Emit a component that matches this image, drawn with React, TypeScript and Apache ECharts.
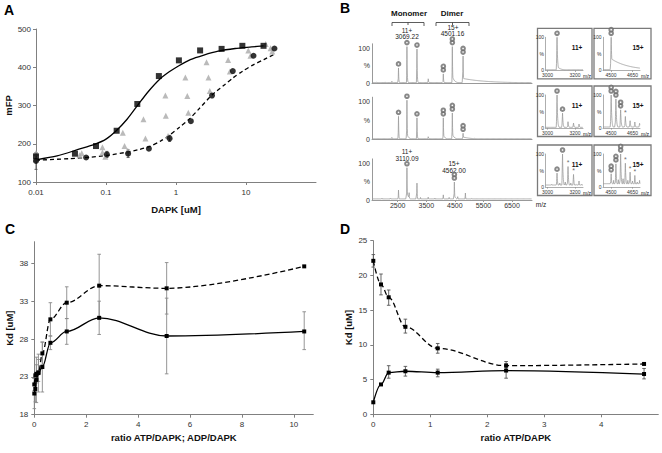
import React, { useEffect, useRef } from "react";
import * as echarts from "echarts";

const FONT = "'Liberation Sans', Arial, Helvetica, sans-serif";

// ---------------- Panel A (fluorescence polarisation vs DAPK) ----------------
const aSquareX = [0.01, 0.036, 0.072, 0.142, 0.28, 0.569, 1.1, 2.21, 4.48, 8.87, 17.8];
const aSquareY = [167, 174, 194, 234, 304, 377, 418, 444, 448, 456, 456];
const aCircleX = [0.01, 0.052, 0.103, 0.207, 0.41, 0.81, 1.63, 3.27, 6.48, 12.8, 25.5];
const aCircleY = [155, 164, 172, 174, 187, 214, 259, 326, 390, 430, 449];
const aCircleErrX = [0.01, 0.103, 0.207, 0.81];
const aCircleErrLo = [133, 164, 164, 206];
const aCircleErrHi = [177, 180, 184, 222];
const aTriangleX = [0.01, 0.01, 0.042, 0.045, 0.089, 0.089, 0.098, 0.174, 0.184, 0.205, 0.343, 0.366, 0.705, 0.715, 0.77, 1.36, 1.45, 1.5, 2.73, 2.91, 3.04, 5.55, 5.88, 10.8, 11.6, 19.1, 22.5, 23.7];
const aTriangleY = [176, 160, 170, 175, 191, 177, 166, 229, 194, 182, 264, 214, 326, 273, 220, 373, 325, 281, 413, 373, 338, 419, 389, 444, 430, 461, 450, 441];
const aSolidFitX = [0.01, 0.02, 0.04, 0.07, 0.1, 0.14, 0.2, 0.29, 0.4, 0.58, 0.8, 1.1, 1.6, 2.5, 4, 7, 12, 18];
const aSolidFitY = [158, 168, 185, 199, 212, 234, 264, 303, 336, 368, 388, 404, 420, 432, 442, 449, 453, 456];
const aDashedFitX = [0.01, 0.03, 0.06, 0.1, 0.2, 0.3, 0.42, 0.6, 0.8, 1.1, 1.6, 2.1, 3.3, 5, 6.5, 9, 12.3, 18, 26];
const aDashedFitY = [157, 161, 165, 169, 178, 185, 193, 207, 222, 242, 267, 290, 328, 355, 372, 390, 405, 420, 435];

// ---------------- Panel B (mass spectra) ----------------
// peaks: [m/z, relative intensity %]; tails: [start m/z, level %, decay m/z]
const spec1Peaks = [[1750, 2], [2061, 3], [2296, 5], [2528, 43], [2823, 104], [3174, 97], [3570, 14], [4096, 26], [4412, 104], [4788, 77], [5184, 5]];
const spec1Tails = [[1600, 1.2, 1e9], [4412, 20, 70], [4788, 13, 800]];
const spec2Peaks = [[2061, 3], [2296, 5], [2528, 61], [2823, 104], [3174, 57], [3570, 8], [4096, 57], [4412, 70], [4788, 16], [5184, 3]];
const spec2Tails = [[1600, 1.5, 1e9], [2823, 14, 60], [4096, 12, 60], [4412, 14, 70], [4788, 6, 300]];
const spec3Peaks = [[1700, 4], [1800, 3], [1950, 5], [2100, 4], [2250, 5], [2400, 4], [2528, 27], [2823, 88], [2900, 20], [3174, 46], [3300, 8], [3570, 9], [3800, 5], [4096, 14], [4300, 7], [4483, 49], [4600, 9], [4869, 19], [5100, 5], [5400, 4], [5800, 3], [6200, 3], [6700, 2]];
const spec3Tails = [[1600, 3, 1e9], [2823, 22, 60], [4483, 12, 60]];
const spec1Mono = [[2528, 43], [2823, 104], [3174, 97]];
const spec1Dimer = [[4096, 26], [4412, 104], [4788, 77]];
const spec2Mono = [[2528, 61], [2823, 104], [3174, 57]];
const spec2Dimer = [[4096, 57], [4412, 70], [4788, 16]];
const spec3Mono = [[2823, 88]];
const spec3Dimer = [[4483, 49]];
const specTicks = [2500, 3500, 4500, 5500, 6500];

// insets (zoomed charge states)
const in11Peaks = [[3069, 100]];
const in11Tails = [[2985, 1.5, 1e9], [3069, 12, 25]];
const in12Peaks = [[4501, 100]];
const in12Tails = [[4444, 2, 1e9], [4501, 35, 120]];
const in21Peaks = [[3069, 100], [3109, 45], [3149, 19], [3189, 15], [3229, 12]];
const in21Tails = [[2985, 2, 1e9]];
const in22Peaks = [[4501, 100], [4534, 88], [4567, 55], [4600, 35], [4633, 22], [4666, 18], [4699, 14]];
const in22Tails = [[4444, 3, 1e9]];
const in31Peaks = [[3030, 8], [3069, 42], [3089, 12], [3109, 100], [3129, 15], [3149, 62], [3169, 12], [3189, 38], [3209, 10], [3229, 18], [3249, 10]];
const in31Tails = [[2985, 6, 1e9]];
const in32Peaks = [[4470, 12], [4501, 40], [4518, 20], [4534, 70], [4551, 22], [4567, 100], [4584, 25], [4600, 72], [4617, 20], [4633, 45], [4650, 18], [4666, 35], [4683, 15], [4699, 20]];
const in32Tails = [[4444, 10, 1e9]];
const in11Mono = [[3069, 100]];
const in12Dimer = [[4501, 100]];
const in21Mono = [[3069, 100], [3109, 45]];
const in22Dimer = [[4501, 100], [4534, 88], [4567, 55]];
const in22Star = [[4600, 35]];
const in31Mono = [[3069, 42], [3109, 100]];
const in31Star = [[3149, 62], [3189, 38]];
const in32Dimer = [[4501, 40], [4534, 70], [4567, 100]];
const in32Star = [[4600, 72], [4633, 45], [4666, 35]];
const inMonoTicks = [3000, 3200];
const inDimerTicks = [4500, 4650];

// ---------------- Panel C ----------------
const cRatio = [0, 0.04, 0.08, 0.16, 0.31, 0.62, 1.25, 2.5, 5.1, 10.4];
const cDashedKd = [22.0, 23.2, 23.4, 23.6, 26.1, 30.6, 32.8, 35.05, 34.7, 37.6];
const cSolidKd = [20.8, 21.4, 22.6, 23.5, 24.3, 27.5, 29.0, 30.8, 28.4, 29.0];
const cDashedErrX = [0, 0.08, 0.16, 0.31, 0.62, 1.25, 2.5, 5.1];
const cDashedErrLo = [21.2, 22.2, 22.4, 24.6, 28.4, 30.7, 30.9, 31.3];
const cDashedErrHi = [22.8, 24.6, 25.3, 27.6, 32.8, 34.9, 39.2, 38.1];
const cSolidErrX = [0, 0.04, 0.08, 0.16, 0.31, 0.62, 1.25, 2.5, 5.1, 10.4];
const cSolidErrLo = [18.8, 19.7, 19.6, 21.0, 21.0, 26.6, 27.3, 28.6, 23.4, 26.6];
const cSolidErrHi = [22.8, 23.1, 25.6, 26.0, 27.6, 28.4, 30.7, 33.0, 33.4, 31.6];

// ---------------- Panel D ----------------
const dRatio = [0, 0.135, 0.27, 0.563, 1.13, 2.33, 4.75];
const dDashedKd = [22.1, 18.7, 16.85, 12.6, 9.5, 7.0, 7.25];
const dSolidKd = [1.73, 4.3, 6.0, 6.2, 6.0, 6.3, 5.8];
const dDashedErrX = [0, 0.135, 0.27, 0.563, 1.13, 2.33];
const dDashedErrLo = [21.2, 17.2, 15.7, 11.7, 8.8, 6.4];
const dDashedErrHi = [23.0, 20.2, 17.9, 13.7, 10.2, 7.6];
const dSolidErrX = [0.27, 0.563, 1.13, 2.33, 4.75];
const dSolidErrLo = [5.2, 5.5, 5.4, 5.2, 5.1];
const dSolidErrHi = [7.0, 6.9, 6.5, 7.3, 6.6];

const zip = (xs: number[], ys: number[]) => xs.map((x, i) => [x, ys[i]]);
const zip3 = (xs: number[], a: number[], b: number[]) => xs.map((x, i) => [x, a[i], b[i]]);

function buildSpectrum(peaks: number[][], tails: number[][], min: number, max: number, step: number, rise: number, fall: number) {
  const set = new Set<number>();
  for (let m = min; m <= max + 1e-9; m += step) set.add(Math.round(m * 100) / 100);
  peaks.forEach((p) => set.add(p[0]));
  const xs = Array.from(set).sort((a, b) => a - b);
  return xs.map((m) => {
    let v = 0;
    for (const [mz, h] of peaks) {
      const d = m - mz;
      let s = 0;
      if (d < 0 && d > -rise) s = h * (1 + d / rise);
      else if (d >= 0) s = h * Math.exp(-d / fall);
      if (s > v) v = s;
    }
    for (const [st, lvl, dec] of tails) {
      if (m >= st) {
        const s = lvl * Math.exp(-(m - st) / dec);
        if (s > v) v = s;
      }
    }
    return [m, v];
  });
}

const AX = "#808080";
const LBL = "#333";
const plain = (v: number) => String(v);

function errorBars(idx: number, data: number[][], color: string, cap: number) {
  return {
    type: "custom",
    xAxisIndex: idx,
    yAxisIndex: idx,
    data,
    encode: { x: 0, y: [1, 2] },
    z: 1,
    silent: true,
    renderItem: (_p: any, api: any) => {
      const x = api.value(0);
      const lo = api.coord([x, api.value(1)]);
      const hi = api.coord([x, api.value(2)]);
      const st = { stroke: color, lineWidth: 0.9 };
      return {
        type: "group",
        children: [
          { type: "line", shape: { x1: lo[0], y1: lo[1], x2: hi[0], y2: hi[1] }, style: st },
          { type: "line", shape: { x1: lo[0] - cap, y1: lo[1], x2: lo[0] + cap, y2: lo[1] }, style: st },
          { type: "line", shape: { x1: hi[0] - cap, y1: hi[1], x2: hi[0] + cap, y2: hi[1] }, style: st },
        ],
      };
    },
  };
}

function markerSeries(idx: number, mono: number[][], dimer: number[][], star: number[][], lift: number) {
  const base = { type: "scatter", xAxisIndex: idx, yAxisIndex: idx, clip: false, silent: true, z: 5 };
  const circ = { symbol: "emptyCircle", symbolSize: 3.6, itemStyle: { color: "#6a6a6a", borderColor: "#6a6a6a", borderWidth: 0.7 } };
  const out: any[] = [];
  if (mono.length) out.push({ ...base, ...circ, data: mono, symbolOffset: [0, -lift] });
  if (dimer.length) {
    out.push({ ...base, ...circ, data: dimer, symbolOffset: [0, -lift] });
    out.push({ ...base, ...circ, data: dimer, symbolOffset: [0, -lift - 3.6] });
  }
  if (star.length)
    out.push({
      ...base,
      data: star,
      symbolSize: 1,
      itemStyle: { color: "rgba(0,0,0,0)" },
      label: { show: true, formatter: "*", position: "top", distance: 0, fontSize: 7, color: "#444", fontFamily: FONT },
    });
  return out;
}

function buildOption() {
  const insetTops = [28.3, 86, 145];
  const insetLefts = [545.5, 603];
  const grids: any[] = [
    { left: 36, top: 29, width: 280, height: 153 },
    { left: 372, top: 43.8, width: 160, height: 39.2 },
    { left: 372, top: 97.2, width: 160, height: 42.1 },
    { left: 372, top: 158.9, width: 160, height: 41.1 },
  ];
  insetTops.forEach((t) => insetLefts.forEach((l, ci) => grids.push({ left: l, top: t + 9, width: ci === 0 ? 37.5 : 37, height: 33 })));
  grids.push({ left: 34.3, top: 241.7, width: 279, height: 173 });
  grids.push({ left: 373.3, top: 240.7, width: 285, height: 173.6 });
  const grid = grids.map((g) => ({ ...g, containLabel: false, outerBoundsMode: "none" }));

  const axisLine = { show: true, lineStyle: { color: AX, width: 1 } };
  const tick = { show: true, length: 3, lineStyle: { color: AX } };
  const lab = { color: LBL, fontSize: 8, fontFamily: FONT };
  const nameStyle = { color: "#111", fontSize: 9.5, fontWeight: "bold", fontFamily: FONT };
  const noSplit = { show: false };

  const xAxis: any[] = [];
  const yAxis: any[] = [];

  // A
  xAxis.push({
    type: "log", logBase: 10, gridIndex: 0, min: 0.01, max: 100, axisLine, axisTick: tick, splitLine: noSplit,
    axisLabel: { ...lab, margin: 6, showMaxLabel: false, formatter: (v: number) => (v < 1 ? String(parseFloat(v.toPrecision(1))) : String(Math.round(v))) },
    name: "DAPK [uM]", nameLocation: "middle", nameGap: 22, nameTextStyle: nameStyle,
  });
  yAxis.push({
    type: "value", gridIndex: 0, min: 100, max: 500, interval: 100, axisLine, axisTick: tick, splitLine: noSplit,
    axisLabel: { ...lab, margin: 5, formatter: plain }, name: "mFP", nameLocation: "middle", nameGap: 20, nameRotate: 90, nameTextStyle: nameStyle,
  });
  // spectra
  for (let i = 1; i <= 3; i++) {
    const last = i === 3;
    xAxis.push({
      type: "value", gridIndex: i, min: 1600, max: 7200, splitLine: noSplit,
      axisLine: { show: true, lineStyle: { color: "#999", width: 1 } },
      axisTick: { show: last, length: 2, customValues: specTicks, lineStyle: { color: "#999" } },
      axisLabel: { show: last, customValues: specTicks, color: LBL, fontSize: 7, fontFamily: FONT, margin: 2, formatter: plain },
    });
    yAxis.push({
      type: "value", gridIndex: i, min: 0, max: 112, splitLine: noSplit,
      axisLine: { show: true, lineStyle: { color: "#999", width: 1 } },
      axisTick: { show: false },
      axisLabel: { customValues: [0, 50, 100], color: LBL, fontSize: 7, fontFamily: FONT, margin: 2, formatter: (v: number) => (v === 0 ? "0" : v === 50 ? "%" : "100") },
    });
  }
  // insets
  for (let r = 0; r < 3; r++) {
    for (let c = 0; c < 2; c++) {
      const gi = 4 + r * 2 + c;
      const ticks = c === 0 ? inMonoTicks : inDimerTicks;
      xAxis.push({
        type: "value", gridIndex: gi, min: c === 0 ? 2985 : 4444, max: c === 0 ? 3258 : 4702, splitLine: noSplit,
        axisLine: { show: true, lineStyle: { color: "#999", width: 0.8 } },
        axisTick: { show: true, length: 1.5, customValues: ticks, lineStyle: { color: "#999" } },
        axisLabel: { customValues: ticks, color: LBL, fontSize: 5, fontFamily: FONT, margin: 2, formatter: plain },
      });
      yAxis.push({
        type: "value", gridIndex: gi, min: 0, max: 100, splitLine: noSplit,
        axisLine: { show: true, lineStyle: { color: "#999", width: 0.8 } },
        axisTick: { show: false },
        axisLabel: { customValues: [0, 50, 100], color: LBL, fontSize: 5, fontFamily: FONT, margin: 1.5, formatter: (v: number) => (v === 0 ? "0" : v === 50 ? "%" : "100") },
      });
    }
  }
  // C
  xAxis.push({
    type: "value", gridIndex: 10, min: 0, max: 10.75, interval: 2, axisLine, axisTick: tick, splitLine: noSplit,
    axisLabel: { ...lab, margin: 6, showMaxLabel: false, formatter: plain },
    name: "ratio ATP/DAPK; ADP/DAPK", nameLocation: "middle", nameGap: 18, nameTextStyle: nameStyle,
  });
  yAxis.push({
    type: "value", gridIndex: 10, min: 18, max: 40.86, interval: 5, axisLine, axisTick: tick, splitLine: noSplit,
    axisLabel: { ...lab, margin: 6, showMaxLabel: false, formatter: plain }, name: "Kd [uM]", nameLocation: "middle", nameGap: 20, nameRotate: 90, nameTextStyle: nameStyle,
  });
  // D
  xAxis.push({
    type: "value", gridIndex: 11, min: 0, max: 5, interval: 1, axisLine, axisTick: tick, splitLine: noSplit,
    axisLabel: { ...lab, margin: 6, showMaxLabel: false, formatter: plain },
    name: "ratio ATP/DAPK", nameLocation: "middle", nameGap: 18, nameTextStyle: nameStyle,
  });
  yAxis.push({
    type: "value", gridIndex: 11, min: 0, max: 25, interval: 5, axisLine, axisTick: tick, splitLine: noSplit,
    axisLabel: { ...lab, margin: 6, formatter: plain }, name: "Kd [uM]", nameLocation: "middle", nameGap: 20, nameRotate: 90, nameTextStyle: nameStyle,
  });

  const series: any[] = [];
  const lineBase = { type: "line", showSymbol: false, symbol: "none", silent: true };
  // A
  series.push({ ...lineBase, xAxisIndex: 0, yAxisIndex: 0, data: zip(aSolidFitX, aSolidFitY), smooth: 0.25, lineStyle: { color: "#000", width: 1.3 } });
  series.push({ ...lineBase, xAxisIndex: 0, yAxisIndex: 0, data: zip(aDashedFitX, aDashedFitY), smooth: 0.25, lineStyle: { color: "#000", width: 1.3, type: [4, 3] } });
  series.push(errorBars(0, zip3(aCircleErrX, aCircleErrLo, aCircleErrHi), "#555", 1.5));
  series.push({ type: "scatter", xAxisIndex: 0, yAxisIndex: 0, symbol: "triangle", symbolSize: 6, itemStyle: { color: "#a9a9a9" }, data: zip(aTriangleX, aTriangleY), z: 3 });
  series.push({ type: "scatter", xAxisIndex: 0, yAxisIndex: 0, symbol: "rect", symbolSize: 6, itemStyle: { color: "#000" }, data: zip(aSquareX, aSquareY), z: 4 });
  series.push({ type: "scatter", xAxisIndex: 0, yAxisIndex: 0, symbol: "circle", symbolSize: 6, itemStyle: { color: "#000" }, data: zip(aCircleX, aCircleY), z: 4 });

  // spectra
  const specStyle = { color: "#9c9c9c", width: 0.8 };
  const specs = [
    [spec1Peaks, spec1Tails, spec1Mono, spec1Dimer],
    [spec2Peaks, spec2Tails, spec2Mono, spec2Dimer],
    [spec3Peaks, spec3Tails, spec3Mono, spec3Dimer],
  ];
  specs.forEach((s, i) => {
    series.push({ ...lineBase, xAxisIndex: i + 1, yAxisIndex: i + 1, data: buildSpectrum(s[0], s[1], 1600, 7200, 6, 14, 10), lineStyle: specStyle });
    series.push(...markerSeries(i + 1, s[2], s[3], [], 4));
  });
  const insets = [
    [in11Peaks, in11Tails, in11Mono, [], []],
    [in12Peaks, in12Tails, [], in12Dimer, []],
    [in21Peaks, in21Tails, in21Mono, [], []],
    [in22Peaks, in22Tails, [], in22Dimer, in22Star],
    [in31Peaks, in31Tails, in31Mono, [], in31Star],
    [in32Peaks, in32Tails, [], in32Dimer, in32Star],
  ];
  insets.forEach((s, k) => {
    const gi = 4 + k;
    const c = k % 2;
    series.push({ ...lineBase, xAxisIndex: gi, yAxisIndex: gi, data: buildSpectrum(s[0], s[1], c === 0 ? 2985 : 4444, c === 0 ? 3258 : 4702, 1, 5, 4), lineStyle: specStyle });
    series.push(...markerSeries(gi, s[2], s[3], s[4], 4));
  });

  // C
  series.push(errorBars(10, zip3(cDashedErrX, cDashedErrLo, cDashedErrHi), "#8a8a8a", 1.8));
  series.push(errorBars(10, zip3(cSolidErrX, cSolidErrLo, cSolidErrHi), "#8a8a8a", 1.8));
  series.push({ type: "line", xAxisIndex: 10, yAxisIndex: 10, data: zip(cRatio, cDashedKd), smooth: 0.35, smoothMonotone: "x", symbol: "rect", symbolSize: 4, showSymbol: true, itemStyle: { color: "#000" }, lineStyle: { color: "#000", width: 1.3, type: [5, 3] }, z: 3 });
  series.push({ type: "line", xAxisIndex: 10, yAxisIndex: 10, data: zip(cRatio, cSolidKd), smooth: 0.35, smoothMonotone: "x", symbol: "rect", symbolSize: 4, showSymbol: true, itemStyle: { color: "#000" }, lineStyle: { color: "#000", width: 1.3 }, z: 3 });
  // D
  series.push(errorBars(11, zip3(dDashedErrX, dDashedErrLo, dDashedErrHi), "#555", 1.8));
  series.push(errorBars(11, zip3(dSolidErrX, dSolidErrLo, dSolidErrHi), "#555", 1.8));
  series.push({ type: "line", xAxisIndex: 11, yAxisIndex: 11, data: zip(dRatio, dDashedKd), smooth: 0.35, smoothMonotone: "x", symbol: "rect", symbolSize: 4, showSymbol: true, itemStyle: { color: "#000" }, lineStyle: { color: "#000", width: 1.3, type: [5, 3] }, z: 3 });
  series.push({ type: "line", xAxisIndex: 11, yAxisIndex: 11, data: zip(dRatio, dSolidKd), smooth: 0.35, smoothMonotone: "x", symbol: "rect", symbolSize: 4, showSymbol: true, itemStyle: { color: "#000" }, lineStyle: { color: "#000", width: 1.3 }, z: 3 });

  // graphic annotations
  const txt = (text: string, x: number, y: number, size: number, bold = false, align = "center", fill = "#222") => ({
    type: "text", x, y, silent: true,
    style: { text, fontSize: size, fontWeight: bold ? "bold" : "normal", fontFamily: FONT, fill, align, verticalAlign: "middle" },
  });
  const graphic: any[] = [
    txt("A", 9, 10, 14, true, "center", "#000"),
    txt("B", 345, 7.5, 14, true, "center", "#000"),
    txt("C", 10, 229, 14, true, "center", "#000"),
    txt("D", 345, 229, 14, true, "center", "#000"),
    txt("Monomer", 409, 13.5, 8, true, "center", "#111"),
    txt("Dimer", 452, 13.5, 8, true, "center", "#111"),
    txt("11+", 407, 30, 6.5),
    txt("3069.22", 407, 36.5, 6.5),
    txt("15+", 453, 27, 6.5),
    txt("4501.16", 452.5, 33.5, 6.5),
    txt("11+", 407, 151.5, 6.5),
    txt("3110.09", 407, 158, 6.5),
    txt("15+", 454, 163.3, 6.5),
    txt("4562.00", 454, 170.3, 6.5),
    txt("m/z", 541, 204.5, 6.5),
  ];
  const brStyle = { stroke: "#333", lineWidth: 0.8, fill: "none" };
  graphic.push({ type: "polyline", silent: true, shape: { points: [[392, 26], [392, 22.5], [424, 22.5], [424, 26]] }, style: brStyle });
  graphic.push({ type: "line", silent: true, shape: { x1: 408, y1: 22.5, x2: 408, y2: 25 }, style: brStyle });
  graphic.push({ type: "polyline", silent: true, shape: { points: [[436, 26], [436, 22.5], [469, 22.5], [469, 26]] }, style: brStyle });
  graphic.push({ type: "line", silent: true, shape: { x1: 452.5, y1: 22.5, x2: 452.5, y2: 25 }, style: brStyle });
  const boxX = [537.5, 594];
  const boxW = [54.5, 57];
  insetTops.forEach((t) => {
    boxX.forEach((bx, c) => {
      graphic.push({ type: "rect", silent: true, shape: { x: bx, y: t, width: boxW[c], height: 50.5 }, style: { fill: "rgba(0,0,0,0)", stroke: "#7a7a7a", lineWidth: 1.3 } });
      graphic.push(txt(c === 0 ? "11+" : "15+", c === 0 ? 577 : 638, t + 19, 6.5, true, "center", "#111"));
      graphic.push(txt("m/z", c === 0 ? 587 : 645, t + 47.5, 5));
    });
  });

  return {
    animation: false,
    backgroundColor: "#fff",
    textStyle: { fontFamily: FONT },
    grid,
    xAxis,
    yAxis,
    series,
    graphic,
  };
}

export default function App() {
  const ref = useRef<HTMLDivElement>(null);
  useEffect(() => {
    if (!ref.current) return;
    const chart = echarts.init(ref.current, undefined, { renderer: "svg" });
    chart.setOption(buildOption() as any);
    return () => chart.dispose();
  }, []);
  return <div ref={ref} style={{ position: "fixed", left: 0, top: 0, width: 662, height: 453, background: "#fff" }} />;
}
